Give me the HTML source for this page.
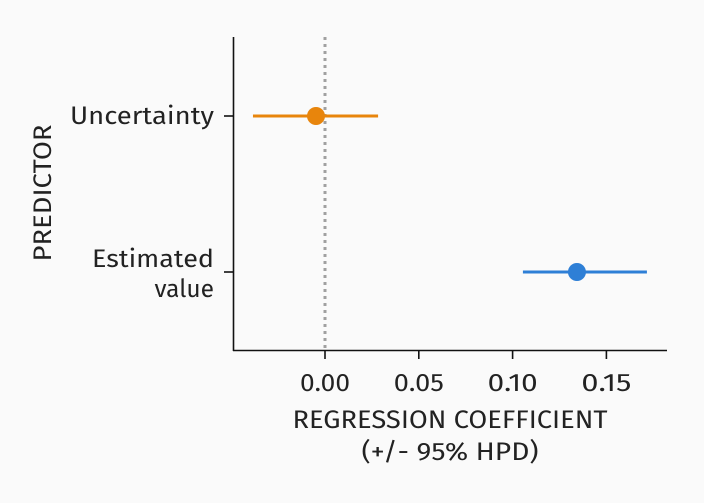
<!DOCTYPE html>
<html><head><meta charset="utf-8"><style>
body{margin:0;background:#fafafa;}
svg{display:block;font-family:"Fira Sans","Liberation Sans",sans-serif;}
</style></head><body>
<svg id="c" width="704" height="503">
<rect width="704" height="503" fill="#fafafa"/>
</svg>
<script>
const categories=["Uncertainty","Estimated value"];
const estimates=[-0.0048,0.1343];
const lower=[-0.0384,0.1055];
const upper=[0.0283,0.1716];
const colors=["#e8850c","#2e7fd6"];
const tickValues=[0,0.05,0.1,0.15];
const tickLabels=["0.00","0.05","0.10","0.15"];
const NS="http://www.w3.org/2000/svg";
const svg=document.getElementById('c');
function x(v){return 325+v*1876;}
const catY=[116,272];
function y(i){return catY[i];}
function el(t,a,p){const e=document.createElementNS(NS,t);for(const k in a)e.setAttribute(k,a[k]);(p||svg).appendChild(e);return e;}
const FS=24.5;
let z=el('line',{x1:x(0),x2:x(0),y1:37,y2:350,stroke:'#a0a0a0','stroke-width':3,'stroke-dasharray':'3,4'});


let ya=el('line',{x1:233.5,x2:233.5,y1:37,y2:351,stroke:'#111','stroke-width':1.6});


let xa=el('line',{x1:233,x2:667,y1:350.5,y2:350.5,stroke:'#111','stroke-width':1.6});


tickValues.forEach((v,i)=>{
 let t=el('line',{x1:x(v),x2:x(v),y1:350,y2:359,stroke:'#111','stroke-width':1.6});
 
 
 let l=el('text',{x:x(v),y:391,'text-anchor':'middle','font-size':FS,fill:'#222',textLength:50,lengthAdjust:'spacingAndGlyphs'});
 l.textContent=tickLabels[i];
 
 
});
function lab(txt,xx,yy,w,name){
 let l=el('text',{x:xx,y:yy,'text-anchor':'end','font-size':FS,fill:'#222'});
 if(w){l.setAttribute('textLength',w);l.setAttribute('lengthAdjust','spacingAndGlyphs');}
 l.textContent=txt;
 
 
}
categories.forEach((c,i)=>{
 let t=el('line',{x1:224,x2:233,y1:y(i),y2:y(i),stroke:'#111','stroke-width':1.6});
 
 
 if(c==="Estimated value"){
  lab("Estimated",214,y(i)-5,122,'y-tick-label');
  lab("value",214,y(i)+25,0,'y-tick-label');
 } else lab(c,214,y(i)+8,144,'y-tick-label');
 let ci=el('line',{x1:x(lower[i]),x2:x(upper[i]),y1:y(i),y2:y(i),stroke:colors[i],'stroke-width':3});
 
 
 let p=el('circle',{cx:x(estimates[i]),cy:y(i),r:9,fill:colors[i]});
 
 
});
let xt=el('text',{x:450,y:428,'text-anchor':'middle','font-size':FS,fill:'#222',textLength:315,lengthAdjust:'spacingAndGlyphs'});
xt.textContent="REGRESSION COEFFICIENT";


let xt2=el('text',{x:450,y:460,'text-anchor':'middle','font-size':FS,fill:'#222',textLength:177,lengthAdjust:'spacingAndGlyphs'});
xt2.textContent="(+/- 95% HPD)";


let yt=el('text',{x:0,y:0,'text-anchor':'middle','font-size':FS,fill:'#222',textLength:137,lengthAdjust:'spacingAndGlyphs',transform:'translate(51,193) rotate(-90)'});
yt.textContent="PREDICTOR";


</script>
</body></html>
